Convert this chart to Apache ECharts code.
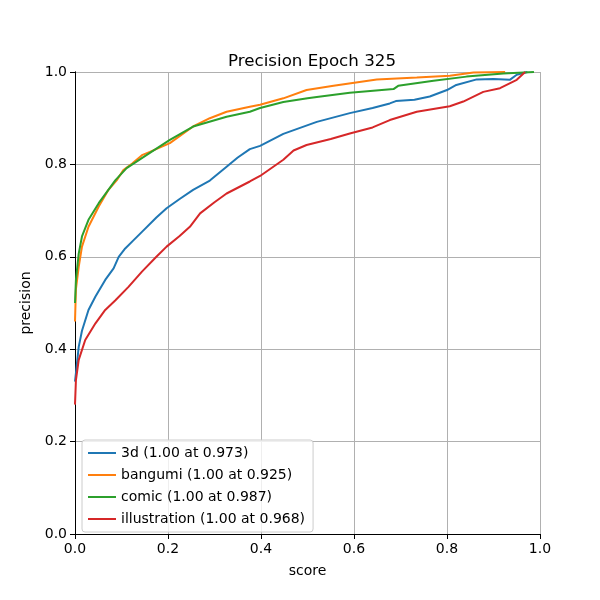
<!DOCTYPE html>
<html>
<head>
<meta charset="utf-8">
<script src="https://cdn.jsdelivr.net/npm/echarts@6/dist/echarts.min.js"></script>
<style>html,body{margin:0;padding:0;background:#fff}#c{width:600px;height:600px}</style>
</head>
<body>
<div id="c"></div>
<script>
var seriesNames = ['3d (1.00 at 0.973)', 'bangumi (1.00 at 0.925)', 'comic (1.00 at 0.987)', 'illustration (1.00 at 0.968)'];
var colors = ['#1f77b4', '#ff7f0e', '#2ca02c', '#d62728'];
var tickValues = [0, 0.2, 0.4, 0.6, 0.8, 1.0];

var score3d = [0, 0.002, 0.008, 0.015, 0.029, 0.044, 0.065, 0.083, 0.094, 0.108, 0.125, 0.144, 0.175, 0.197, 0.225, 0.254, 0.29, 0.326, 0.35, 0.376, 0.398, 0.448, 0.52, 0.591, 0.64, 0.677, 0.69, 0.73, 0.763, 0.8, 0.82, 0.864, 0.9, 0.935, 0.95, 0.973];
var prec3d = [0.33, 0.348, 0.405, 0.44, 0.485, 0.514, 0.55, 0.575, 0.6, 0.618, 0.635, 0.654, 0.685, 0.705, 0.725, 0.745, 0.765, 0.795, 0.815, 0.833, 0.84, 0.866, 0.892, 0.911, 0.922, 0.932, 0.937, 0.94, 0.947, 0.961, 0.972, 0.984, 0.985, 0.983, 0.994, 1.0];

var scoreBangumi = [0, 0.002, 0.008, 0.015, 0.029, 0.051, 0.072, 0.09, 0.104, 0.123, 0.144, 0.161, 0.204, 0.254, 0.29, 0.326, 0.376, 0.398, 0.448, 0.498, 0.556, 0.649, 0.735, 0.806, 0.857, 0.925];
var precBangumi = [0.46, 0.53, 0.578, 0.622, 0.665, 0.709, 0.745, 0.766, 0.788, 0.802, 0.82, 0.827, 0.846, 0.882, 0.9, 0.914, 0.925, 0.929, 0.943, 0.961, 0.97, 0.984, 0.988, 0.992, 0.999, 1.0];

var scoreComic = [0, 0.002, 0.008, 0.015, 0.029, 0.051, 0.087, 0.111, 0.161, 0.204, 0.254, 0.326, 0.376, 0.398, 0.448, 0.5, 0.52, 0.591, 0.685, 0.695, 0.771, 0.842, 0.921, 0.987];
var precComic = [0.5, 0.55, 0.607, 0.644, 0.68, 0.716, 0.766, 0.792, 0.825, 0.853, 0.882, 0.903, 0.914, 0.922, 0.935, 0.943, 0.946, 0.955, 0.963, 0.97, 0.981, 0.99, 0.997, 1.0];

var scoreIllust = [0, 0.002, 0.008, 0.022, 0.044, 0.065, 0.087, 0.115, 0.144, 0.175, 0.197, 0.225, 0.247, 0.269, 0.3, 0.326, 0.376, 0.398, 0.448, 0.47, 0.498, 0.55, 0.591, 0.64, 0.677, 0.735, 0.806, 0.835, 0.878, 0.914, 0.95, 0.968];
var precIllust = [0.28, 0.333, 0.377, 0.42, 0.456, 0.485, 0.506, 0.535, 0.568, 0.6, 0.622, 0.645, 0.665, 0.694, 0.718, 0.737, 0.763, 0.775, 0.81, 0.83, 0.842, 0.855, 0.867, 0.88, 0.896, 0.914, 0.926, 0.936, 0.957, 0.965, 0.983, 1.0];

function zip(xs, ys) { return xs.map(function (x, i) { return [x, ys[i]]; }); }
var allData = [zip(score3d, prec3d), zip(scoreBangumi, precBangumi), zip(scoreComic, precComic), zip(scoreIllust, precIllust)];

var font = 'DejaVu Sans';
var chart = echarts.init(document.getElementById('c'));
var baseAxis = {
  type: 'value', min: 0, max: 1, interval: 0.2,
  axisLine: { show: true, lineStyle: { color: '#000', width: 1 } },
  axisTick: { show: true, length: 5, lineStyle: { color: '#000' } },
  axisLabel: { color: '#000', fontFamily: font, fontSize: 14, formatter: function (v) { return v.toFixed(1); } },
  splitLine: { show: true, lineStyle: { color: '#b0b0b0', width: 1 } }
};
chart.setOption({
  backgroundColor: '#fff',
  animation: false,
  title: { text: 'Precision Epoch 325', left: 307, top: 48, textAlign: 'center',
    textStyle: { fontFamily: font, fontSize: 16.7, fontWeight: 'normal', color: '#000' } },
  grid: { left: 75, right: 60, top: 72, bottom: 66 },
  legend: {
    orient: 'vertical', left: 82, top: 440, padding: [6, 8, 6, 6],
    backgroundColor: 'rgba(255,255,255,0.8)', borderColor: '#cccccc', borderWidth: 1, borderRadius: 3,
    icon: 'rect', itemWidth: 28, itemHeight: 2, itemGap: 8,
    textStyle: { fontFamily: font, fontSize: 14, color: '#000' },
    data: seriesNames
  },
  xAxis: [
    Object.assign({}, baseAxis, { name: 'score', nameLocation: 'middle', nameGap: 30,
      nameTextStyle: { fontFamily: font, fontSize: 14, color: '#000' } }),
    { type: 'value', min: 0, max: 1, position: 'top', axisLine: { show: true, lineStyle: { color: '#000' } },
      axisTick: { show: false }, axisLabel: { show: false }, splitLine: { show: false } }
  ],
  yAxis: [
    Object.assign({}, baseAxis, { name: 'precision', nameLocation: 'middle', nameGap: 37, nameRotate: 90,
      nameTextStyle: { fontFamily: font, fontSize: 14, color: '#000' } }),
    { type: 'value', min: 0, max: 1, position: 'right', axisLine: { show: true, lineStyle: { color: '#000' } },
      axisTick: { show: false }, axisLabel: { show: false }, splitLine: { show: false } }
  ],
  series: seriesNames.map(function (n, i) {
    return { name: n, type: 'line', data: allData[i], showSymbol: false, symbol: 'none',
      color: colors[i], lineStyle: { width: 2, color: colors[i] }, clip: true, z: 3 };
  })
});
</script>
</body>
</html>
